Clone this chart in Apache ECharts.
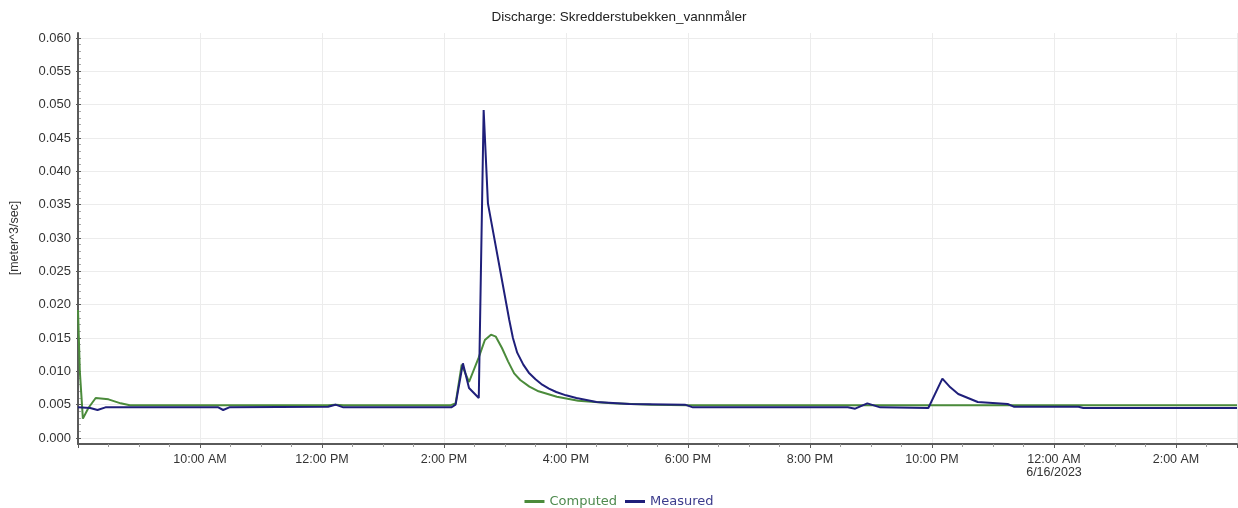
<!DOCTYPE html>
<html>
<head>
<meta charset="utf-8">
<script src="https://cdn.jsdelivr.net/npm/echarts@6/dist/echarts.min.js"></script>
<style>
html,body{margin:0;padding:0;background:#fff;}
#chart{width:1238px;height:508px;}
</style>
</head>
<body>
<div id="chart"></div>
<script>
// Hours since 6/15/2023 00:00
const computedHours = [8.0, 8.03, 8.08, 8.17, 8.29, 8.5, 8.7, 8.85, 9.5, 12.1, 12.22, 12.35, 14.1, 14.19, 14.29, 14.41, 14.57, 14.67, 14.77, 14.85, 14.95, 15.05, 15.15, 15.25, 15.4, 15.55, 15.85, 16.2, 16.75, 17.4, 18.0, 27.0];
const computedValues = [0.0192, 0.0100, 0.0029, 0.0045, 0.0060, 0.0058, 0.0052, 0.0049, 0.0049, 0.0049, 0.0050, 0.0049, 0.0049, 0.0052, 0.0110, 0.0084, 0.0121, 0.0147, 0.0155, 0.0152, 0.0135, 0.0115, 0.0097, 0.0087, 0.0077, 0.0070, 0.0062, 0.0056, 0.0052, 0.0050, 0.0049, 0.0049];

const measuredHours = [8.0, 8.2, 8.32, 8.45, 10.3, 10.38, 10.48, 12.1, 12.22, 12.35, 14.12, 14.19, 14.31, 14.41, 14.57, 14.65, 14.72, 15.07, 15.13, 15.2, 15.3, 15.39, 15.5, 15.61, 15.72, 15.84, 16.0, 16.17, 16.5, 17.04, 17.95, 18.08, 20.62, 20.74, 20.94, 21.15, 21.94, 22.17, 22.3, 22.43, 22.75, 23.24, 23.34, 24.4, 24.48, 27.0];
const measuredValues = [0.0046, 0.0045, 0.0042, 0.0046, 0.0046, 0.0042, 0.0046, 0.0047, 0.0050, 0.0046, 0.0046, 0.0050, 0.0112, 0.0075, 0.0060, 0.0492, 0.0352, 0.0177, 0.0150, 0.0128, 0.0110, 0.0098, 0.0088, 0.0080, 0.0074, 0.0069, 0.0064, 0.0060, 0.0054, 0.0051, 0.0050, 0.0046, 0.0046, 0.0044, 0.0052, 0.0046, 0.0045, 0.0089, 0.0076, 0.0066, 0.0054, 0.0051, 0.0047, 0.0047, 0.0045, 0.0045];

const seriesNames = ['Computed', 'Measured'];
const seriesColors = ['#4b8b3b', '#1f1f7a'];
const legendTextColors = ['#4e8a4e', '#3b3b8c'];
const titleText = 'Discharge: Skredderstubekken_vannmåler';
const yAxisName = '[meter^3/sec]';
const dateLabel = '6/16/2023';

function hourLabel(v) {
  const h = ((Math.round(v) % 24) + 24) % 24;
  const ampm = h < 12 ? 'AM' : 'PM';
  let h12 = h % 12; if (h12 === 0) h12 = 12;
  let s = h12 + ':00 ' + ampm;
  if (Math.round(v) === 24) s += '\n' + dateLabel;
  return s;
}

const chart = echarts.init(document.getElementById('chart'));
const axisColor = '#5a5a5a';
const gridColor = '#ececec';
const font = 'Liberation Sans, Arial, sans-serif';

chart.setOption({
  backgroundColor: '#ffffff',
  animation: false,
  title: {
    text: titleText,
    left: 'center',
    top: 5,
    textStyle: {fontFamily: font, fontSize: 13.5, fontWeight: 'normal', color: '#222'}
  },
  legend: {
    left: 'center',
    top: 490,
    itemWidth: 20,
    itemHeight: 3,
    itemGap: 8,
    icon: 'rect',
    data: seriesNames.map((n, i) => ({name: n, textStyle: {color: legendTextColors[i]}})),
    textStyle: {fontFamily: 'DejaVu Sans, sans-serif', fontSize: 13}
  },
  grid: [
    {left: 78, right: 1, top: 38, bottom: 70},
    {left: 78, right: 1, top: 33, bottom: 64}
  ],
  xAxis: [
    {gridIndex: 0, type: 'value', min: 8, max: 27, show: false},
    {
      gridIndex: 1, type: 'value', min: 8, max: 27, interval: 2,
      axisLine: {show: true, onZero: false, lineStyle: {color: axisColor, width: 2}},
      axisTick: {show: true, length: 4, lineStyle: {color: axisColor}},
      minorTick: {show: true, splitNumber: 4, length: 3, lineStyle: {color: '#999'}},
      splitLine: {show: true, lineStyle: {color: gridColor, width: 1}},
      axisLabel: {
        showMinLabel: false, showMaxLabel: false,
        margin: 9, fontFamily: font, fontSize: 12.5, color: '#333', lineHeight: 13,
        formatter: hourLabel
      }
    }
  ],
  yAxis: [
    {
      gridIndex: 0, type: 'value', min: 0, max: 0.06, interval: 0.005,
      name: yAxisName, nameLocation: 'middle', nameGap: 60, nameRotate: 90,
      nameTextStyle: {fontFamily: font, fontSize: 12.5, color: '#333'},
      axisLine: {show: false},
      axisTick: {show: true, length: 5, lineStyle: {color: axisColor}},
      minorTick: {show: true, splitNumber: 5, length: 2, lineStyle: {color: '#aaa'}},
      splitLine: {show: true, lineStyle: {color: gridColor, width: 1}},
      axisLabel: {margin: 10, fontFamily: font, fontSize: 13, color: '#333',
        formatter: v => v.toFixed(3)}
    },
    {
      gridIndex: 1, type: 'value', min: -0.0009, max: 0.06075,
      axisLine: {show: true, onZero: false, lineStyle: {color: axisColor, width: 2}},
      axisTick: {show: false}, axisLabel: {show: false}, splitLine: {show: false}
    }
  ],
  series: [
    {
      name: seriesNames[0], type: 'line', xAxisIndex: 1, yAxisIndex: 1,
      data: computedHours.map((h, i) => [h, computedValues[i]]),
      showSymbol: false, symbol: 'none',
      lineStyle: {color: seriesColors[0], width: 2},
      itemStyle: {color: seriesColors[0]}
    },
    {
      name: seriesNames[1], type: 'line', xAxisIndex: 1, yAxisIndex: 1,
      data: measuredHours.map((h, i) => [h, measuredValues[i]]),
      showSymbol: false, symbol: 'none',
      lineStyle: {color: seriesColors[1], width: 2},
      itemStyle: {color: seriesColors[1]}
    }
  ]
});
</script>
</body>
</html>
